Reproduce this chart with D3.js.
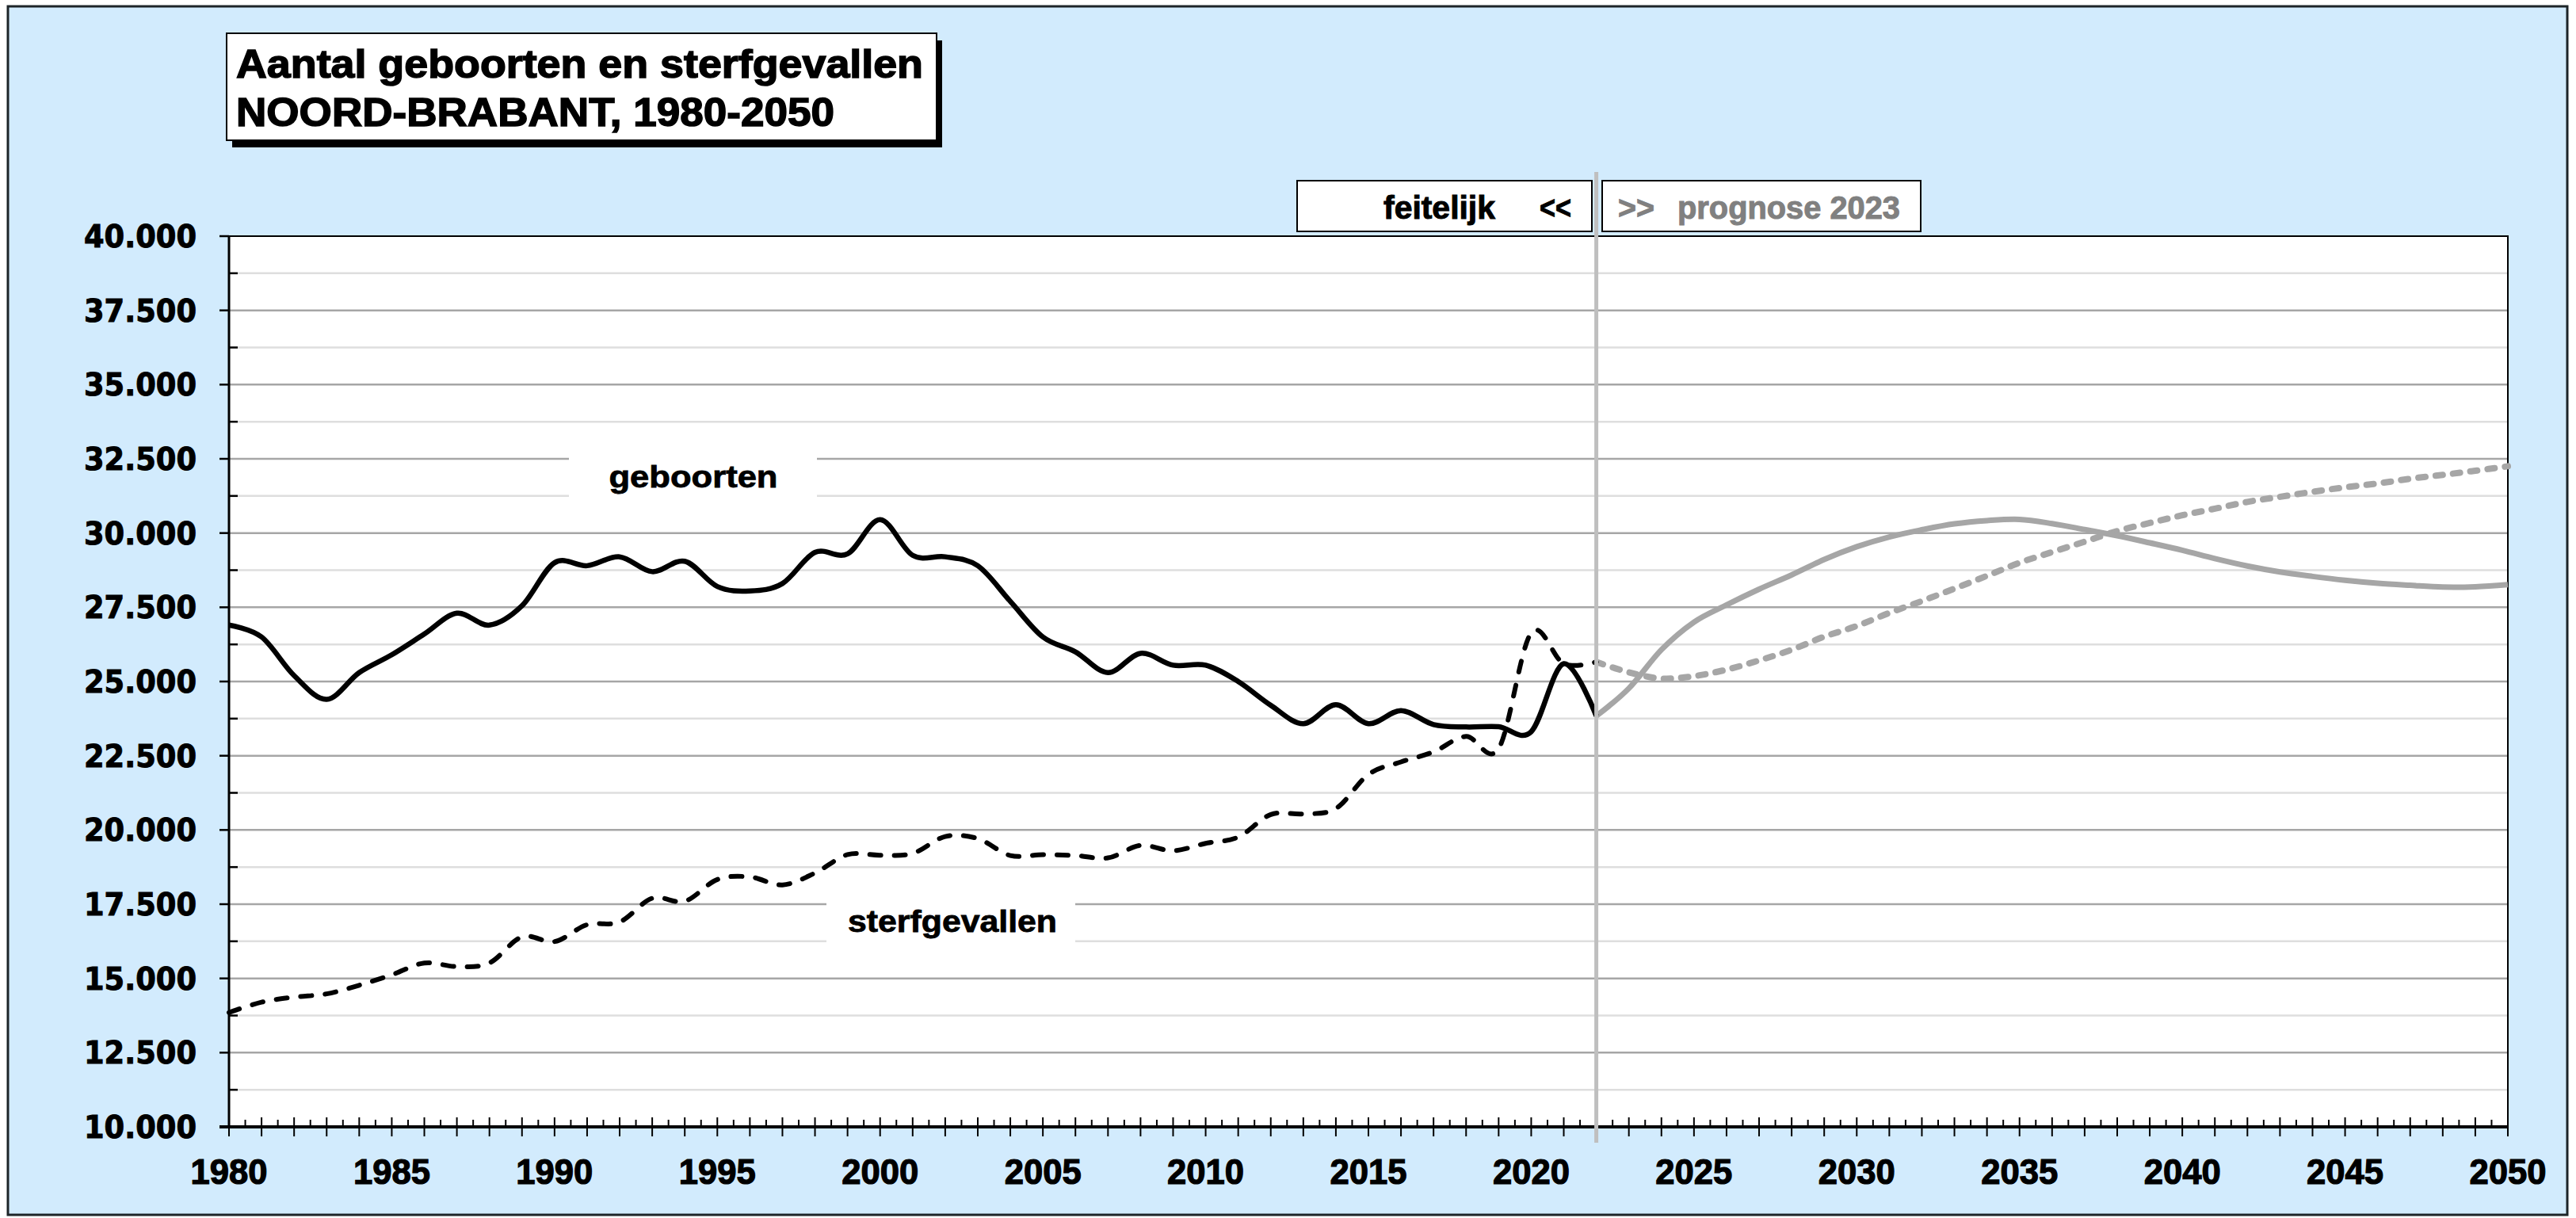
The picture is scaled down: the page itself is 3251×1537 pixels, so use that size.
<!DOCTYPE html>
<html>
<head>
<meta charset="utf-8">
<script src="https://cdn.jsdelivr.net/npm/d3@7"></script>
<style>
  html, body { margin: 0; padding: 0; background: #ffffff; }
  svg { display: block; }
</style>
</head>
<body>
<svg id="chart" width="3251" height="1537"></svg>
<script>
// ---------------- DATA ----------------
const yearsActual = d3.range(1980, 2023);            // 1980..2022
const birthsActual = [
  26900, 26500, 25200, 24400, 25300, 25900, 26600, 27300, 26900, 27550,
  29000, 28900, 29200, 28700, 29050, 28200, 28050, 28300, 29350, 29300,
  30450, 29250, 29200, 28900, 27700, 26500, 26000, 25300, 25950, 25550,
  25550, 25000, 24200, 23580, 24220, 23580, 24020, 23550, 23470, 23480,
  23310, 25600, 23840
];
const deathsActual = [
  13850, 14200, 14370, 14480, 14770, 15120, 15520, 15400, 15520, 16400,
  16240, 16810, 16900, 17700, 17600, 18330, 18420, 18150, 18550, 19170,
  19150, 19210, 19780, 19710, 19140, 19170, 19140, 19060, 19480, 19300,
  19550, 19760, 20520, 20540, 20720, 21870, 22290, 22630, 23150, 22740,
  26640, 25600, 25660
];
const yearsForecast = d3.range(2022, 2051);          // 2022..2050
const birthsForecast = [
  23840, 24770, 26070, 27000, 27580, 28110, 28590, 29110, 29540, 29870,
  30110, 30310, 30420, 30460, 30320, 30120, 29910, 29670, 29420, 29140,
  28890, 28690, 28540, 28410, 28310, 28240, 28180, 28190, 28260
];
const deathsForecast = [
  25660, 25310, 25100, 25180, 25400, 25710, 26070, 26510, 26870, 27310,
  27710, 28130, 28560, 29000, 29360, 29710, 30070, 30340, 30600, 30820,
  31050, 31220, 31390, 31540, 31670, 31830, 31960, 32100, 32250
];
const yTicks = d3.range(10000, 40001, 2500);
const yMinorTicks = d3.range(11250, 40000, 2500);
const xLabelYears = d3.range(1980, 2051, 5);
const forecastStart = 2022;
const titleLines = ["Aantal geboorten en sterfgevallen", "NOORD-BRABANT, 1980-2050"];

// ---------------- LAYOUT ----------------
const svg = d3.select("#chart");
const P = { left: 289, right: 3165, top: 298, bottom: 1422 };
const x = d3.scaleLinear().domain([1980, 2050]).range([P.left, P.right]);
const y = d3.scaleLinear().domain([10000, 40000]).range([P.bottom, P.top]);
const fmt = v => d3.format(",")(v).replace(/,/g, ".");

const BG = "rgb(210,235,253)";
const CONDENSED = "'Liberation Sans Narrow', 'Liberation Sans', Arial, sans-serif";
const SANS = "'Liberation Sans', Arial, sans-serif";
const WIDE = "'DejaVu Sans', Verdana, sans-serif";

// outer chart area
svg.append("rect").attr("x", 10).attr("y", 8).attr("width", 3230).attr("height", 1525)
  .attr("fill", BG).attr("stroke", "#1d2428").attr("stroke-width", 3);

// plot area
svg.append("rect").attr("x", P.left).attr("y", P.top)
  .attr("width", P.right - P.left).attr("height", P.bottom - P.top)
  .attr("fill", "#ffffff");

// grid lines
svg.append("g").selectAll("line").data(yMinorTicks).join("line")
  .attr("x1", P.left).attr("x2", P.right)
  .attr("y1", d => y(d)).attr("y2", d => y(d))
  .attr("stroke", "#dedede").attr("stroke-width", 2.5);
svg.append("g").selectAll("line").data(yTicks.filter(d => d > 10000 && d < 40000)).join("line")
  .attr("x1", P.left).attr("x2", P.right)
  .attr("y1", d => y(d)).attr("y2", d => y(d))
  .attr("stroke", "#a6a6a6").attr("stroke-width", 2.5);

// plot border
svg.append("rect").attr("x", P.left).attr("y", P.top)
  .attr("width", P.right - P.left).attr("height", P.bottom - P.top)
  .attr("fill", "none").attr("stroke", "#000").attr("stroke-width", 2);

// series label boxes (white, hiding grid)
const seriesLabels = [
  { text: "geboorten", cx: 875, base: 615, box: [718, 566, 313, 74], len: 213 },
  { text: "sterfgevallen", cx: 1202, base: 1176, box: [1043, 1133, 314, 64], len: 264 }
];
svg.append("g").selectAll("rect").data(seriesLabels).join("rect")
  .attr("x", d => d.box[0]).attr("y", d => d.box[1])
  .attr("width", d => d.box[2]).attr("height", d => d.box[3]).attr("fill", "#fff");
svg.append("g").selectAll("text").data(seriesLabels).join("text")
  .attr("x", d => d.cx).attr("y", d => d.base).attr("text-anchor", "middle")
  .attr("font-family", SANS).attr("font-weight", "bold").attr("font-size", 38)
  .attr("stroke", "#000").attr("stroke-width", 0.8)
  .attr("textLength", d => d.len).attr("lengthAdjust", "spacingAndGlyphs")
  .text(d => d.text);

// lines
const line = d3.line().x(d => x(d[0])).y(d => y(d[1])).curve(d3.curveCardinal.tension(0));
const zip = (a, b) => a.map((v, i) => [v, b[i]]);

svg.append("path").datum(zip(yearsForecast, deathsForecast)).attr("d", line)
  .attr("fill", "none").attr("stroke", "#a6a6a6").attr("stroke-width", 8)
  .attr("stroke-linecap", "round").attr("stroke-dasharray", "9,13");
svg.append("path").datum(zip(yearsForecast, birthsForecast)).attr("d", line)
  .attr("fill", "none").attr("stroke", "#a6a6a6").attr("stroke-width", 7)
  .attr("stroke-linejoin", "round");
svg.append("path").datum(zip(yearsActual, deathsActual)).attr("d", line)
  .attr("fill", "none").attr("stroke", "#000").attr("stroke-width", 6)
  .attr("stroke-linecap", "round").attr("stroke-dasharray", "14,17");
svg.append("path").datum(zip(yearsActual, birthsActual)).attr("d", line)
  .attr("fill", "none").attr("stroke", "#000").attr("stroke-width", 6.5)
  .attr("stroke-linejoin", "round");

// Y axis
const yAxis = svg.append("g");
yAxis.append("line").attr("x1", P.left).attr("x2", P.left).attr("y1", P.top).attr("y2", P.bottom + 2)
  .attr("stroke", "#000").attr("stroke-width", 3);
yAxis.selectAll(".maj").data(yTicks).join("line")
  .attr("x1", P.left - 12).attr("x2", P.left).attr("y1", d => y(d)).attr("y2", d => y(d))
  .attr("stroke", "#000").attr("stroke-width", 2.5);
yAxis.selectAll(".min").data(yMinorTicks).join("line")
  .attr("x1", P.left).attr("x2", P.left + 11).attr("y1", d => y(d)).attr("y2", d => y(d))
  .attr("stroke", "#000").attr("stroke-width", 2.5);
yAxis.selectAll("text").data(yTicks).join("text")
  .attr("x", 248).attr("y", d => y(d)).attr("dy", "0.36em").attr("text-anchor", "end")
  .attr("font-family", WIDE).attr("font-weight", "bold").attr("font-size", 39)
  .attr("stroke", "#000").attr("stroke-width", 1)
  .attr("textLength", 142).attr("lengthAdjust", "spacingAndGlyphs")
  .attr("fill", "#000").text(d => fmt(d));

// X axis
const xAxis = svg.append("g");
const yearTicks = d3.range(1980, 2051);
const halfTicks = d3.range(1980.5, 2050, 1);
xAxis.selectAll(".yt").data(yearTicks).join("line")
  .attr("x1", d => x(d)).attr("x2", d => x(d)).attr("y1", P.bottom - 12).attr("y2", P.bottom + 12)
  .attr("stroke", "#000").attr("stroke-width", 2);
xAxis.selectAll(".ht").data(halfTicks).join("line")
  .attr("x1", d => x(d)).attr("x2", d => x(d)).attr("y1", P.bottom - 9).attr("y2", P.bottom)
  .attr("stroke", "#000").attr("stroke-width", 2);
xAxis.append("line").attr("x1", P.left - 12).attr("x2", P.right).attr("y1", P.bottom).attr("y2", P.bottom)
  .attr("stroke", "#000").attr("stroke-width", 4);
xAxis.selectAll("text").data(xLabelYears).join("text")
  .attr("x", d => x(d)).attr("y", 1494).attr("text-anchor", "middle")
  .attr("font-family", CONDENSED).attr("font-weight", "bold").attr("font-size", 44)
  .attr("stroke", "#000").attr("stroke-width", 1.2)
  .attr("textLength", 97).attr("lengthAdjust", "spacingAndGlyphs")
  .text(d => d);

// forecast divider
svg.append("line").attr("x1", x(forecastStart)).attr("x2", x(forecastStart))
  .attr("y1", 217).attr("y2", 1442).attr("stroke", "#bfbfbf").attr("stroke-width", 5);

// legend boxes
const lg = svg.append("g");
lg.append("rect").attr("x", 1637).attr("y", 228).attr("width", 372).attr("height", 64)
  .attr("fill", "#fff").attr("stroke", "#000").attr("stroke-width", 2);
lg.append("rect").attr("x", 2022).attr("y", 228).attr("width", 402).attr("height", 64)
  .attr("fill", "#fff").attr("stroke", "#000").attr("stroke-width", 2);
const lt = (t, xx, anchor, len, col) => lg.append("text").attr("x", xx).attr("y", 276)
  .attr("text-anchor", anchor).attr("font-family", CONDENSED).attr("font-weight", "bold")
  .attr("font-size", 40).attr("fill", col).attr("stroke", col).attr("stroke-width", 1)
  .attr("textLength", len).attr("lengthAdjust", "spacingAndGlyphs").text(t);
lt("feitelijk", 1887, "end", 141, "#000");
lt("<<", 1943, "start", 40, "#000");
lt(">>", 2042, "start", 46, "#808080");
lt("prognose 2023", 2117, "start", 281, "#808080");

// title box with shadow
const tg = svg.append("g");
tg.append("rect").attr("x", 293).attr("y", 51).attr("width", 896).attr("height", 135).attr("fill", "#000");
tg.append("rect").attr("x", 286).attr("y", 42).attr("width", 896).attr("height", 135)
  .attr("fill", "#fff").attr("stroke", "#000").attr("stroke-width", 2);
tg.selectAll("text").data(titleLines).join("text")
  .attr("x", 298).attr("y", (d, i) => i === 0 ? 98 : 159)
  .attr("font-family", CONDENSED).attr("font-weight", "bold").attr("font-size", 50)
  .attr("stroke", "#000").attr("stroke-width", 1.5)
  .attr("textLength", (d, i) => i === 0 ? 867 : 755).attr("lengthAdjust", "spacingAndGlyphs")
  .text(d => d);
</script>
</body>
</html>
